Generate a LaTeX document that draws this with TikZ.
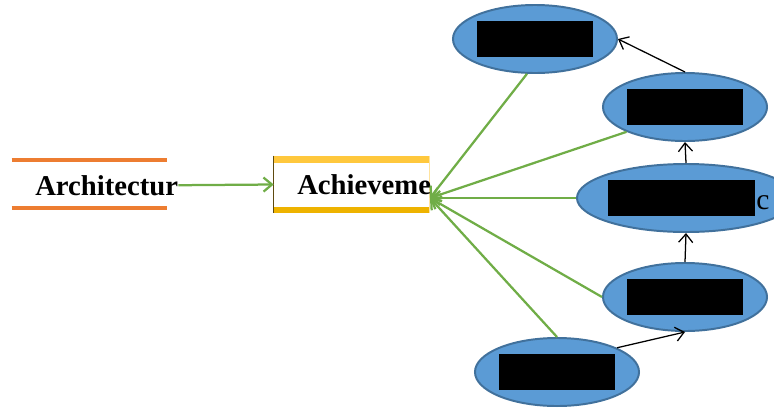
\documentclass[tikz,border=0pt]{standalone}
\usepackage{fontspec}
\setmainfont{Liberation Serif}
\usetikzlibrary{shapes,arrows.meta,positioning}
\usepackage{xcolor}
\definecolor{archorange}{HTML}{ED7D31}
\definecolor{achvtop}{HTML}{FFC83D}
\definecolor{achvbottom}{HTML}{EEB300}
\definecolor{achvedge}{HTML}{5E4A10}
\definecolor{linkgreen}{HTML}{70AD47}
\definecolor{ovalfill}{HTML}{5B9BD5}
\definecolor{ovaldraw}{HTML}{41719C}

\tikzset{
  oval/.style={ellipse, draw=ovaldraw, fill=ovalfill, line width=1.4pt, minimum width=4.1cm, minimum height=1.7cm, inner sep=0pt},
  redact/.style={rectangle, fill=black, minimum width=2.875cm, minimum height=0.9cm, inner sep=0pt},
  boxtext/.style={anchor=base west, inner sep=0pt, font=\fontsize{20.4}{24}\selectfont\bfseries},
  greenlink/.style={->, draw=linkgreen, line width=1.6pt},
  blacklink/.style={->, draw=black, line width=0.9pt},
}

\begin{document}
\begin{tikzpicture}[x=0.025cm, y=-0.025cm, >={Straight Barb[length=6pt,width=10pt]}]
    \useasboundingbox (0,0) rectangle (774,408);

    % Left boxes
    \node[rectangle, minimum width=3.875cm, minimum height=1.2cm] (arch) at (89.5,184) {};
    \draw[archorange, line width=2.7pt] (arch.north west) -- (arch.north east);
    \draw[archorange, line width=2.7pt] (arch.south west) -- (arch.south east);
    \node[boxtext] (archtext) at (35,195) {Architectur};

    \node[rectangle, minimum width=3.875cm, minimum height=1.425cm] (achv) at (351.5,184.5) {};
    \fill[achvtop] (achv.north west) rectangle ([yshift=-0.17cm]achv.north east);
    \fill[achvbottom] ([yshift=0.16cm]achv.south west) rectangle (achv.south east);
    \draw[achvedge, line width=0.8pt] (achv.north west) -- (achv.south west);
    \draw[achvtop!50, line width=0.5pt] (achv.north east) -- (achv.south east);
    \node[boxtext] (achvtext) at (297,194) {Achieveme};

    % Ovals
    \node[oval] (e1) at (535,39) {};
    \node[oval] (e2) at (685,107) {};
    \node[oval, minimum width=5.45cm] (e3) at (686,198) {};
    \node[oval] (e4) at (685,297) {};
    \node[oval] (e5) at (557,372) {};

    \node[redact] (e1r) at (e1) {};
    \node[redact] (e2r) at (e2) {};
    \node[redact, minimum width=3.675cm] (e3r) at (681.5,198) {};
    \node[redact] (e4r) at (e4) {};
    \node[redact] (e5r) at (e5) {};
    \node[anchor=base west, inner sep=0pt, font=\fontsize{21}{24}\selectfont] (e3c) at (756,209) {c};

    % Links
    \coordinate (hub) at (430,198);
    \draw[greenlink] (archtext.east) -- (achv.west);
    \draw[greenlink] (e1.257) -- (hub);
    \draw[greenlink] (e2.203) -- (hub);
    \draw[greenlink] (e3.west) -- (hub);
    \draw[greenlink] (e4.west) -- (hub);
    \draw[greenlink] (e5.north) -- (hub);

    \draw[blacklink] (e2.north) -- (e1.east);
    \draw[blacklink] (e3.north) -- (e2.south);
    \draw[blacklink] (e4.north) -- (e3.south);
    \draw[blacklink] (e5.22) -- (e4.south);
\end{tikzpicture}
\end{document}
